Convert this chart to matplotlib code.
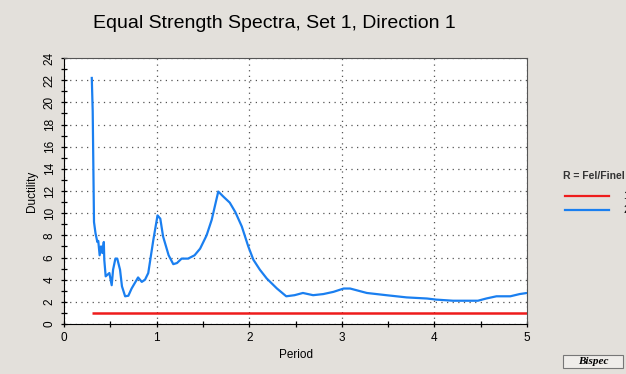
import matplotlib
matplotlib.use('Agg')
import matplotlib.pyplot as plt
from matplotlib.ticker import MultipleLocator

plt.rcParams['font.family'] = ['Liberation Sans', 'DejaVu Sans']

# ductility spectrum
period = [0.30, 0.31, 0.317, 0.324, 0.34, 0.36, 0.37, 0.385, 0.40, 0.415, 0.43, 0.435,
          0.45, 0.49, 0.515, 0.53, 0.555, 0.575, 0.605, 0.626, 0.66, 0.695, 0.73, 0.80,
          0.84, 0.875, 0.91, 0.965, 1.01, 1.04, 1.07, 1.13, 1.18, 1.22, 1.27, 1.34,
          1.41, 1.47, 1.54, 1.595, 1.666, 1.72, 1.79, 1.85, 1.92, 1.99, 2.045, 2.115,
          2.19, 2.30, 2.40, 2.49, 2.58, 2.69, 2.80, 2.91, 3.02, 3.09, 3.27, 3.48,
          3.70, 3.92, 4.02, 4.20, 4.47, 4.56, 4.67, 4.82, 4.92, 5.0]
ductility = [22.2, 19.2, 14.2, 9.2, 8.2, 7.4, 7.5, 6.2, 7.0, 6.4, 7.4, 5.8,
             4.3, 4.6, 3.5, 4.9, 5.9, 5.9, 4.9, 3.4, 2.5, 2.55, 3.2, 4.2,
             3.8, 4.0, 4.6, 7.6, 9.8, 9.5, 7.9, 6.2, 5.4, 5.5, 5.9, 5.9,
             6.2, 6.8, 8.0, 9.4, 11.95, 11.5, 10.95, 10.1, 8.8, 7.0, 5.8, 4.9,
             4.1, 3.2, 2.5, 2.6, 2.8, 2.6, 2.7, 2.9, 3.2, 3.2, 2.8, 2.6,
             2.4, 2.3, 2.2, 2.1, 2.1, 2.3, 2.5, 2.5, 2.7, 2.8]
r_period = [0.30, 5.0]
r_value = [1.0, 1.0]

bg = '#e3e0db'
fig = plt.figure(figsize=(6.26, 3.74), dpi=100, facecolor=bg)
ax = fig.add_axes([64/626, 1 - 324/374, 463/626, 266/374])
ax.set_facecolor('white')

ax.plot(r_period, r_value, color='#ee1c1c', lw=1.8, solid_capstyle='butt')
ax.plot(period, ductility, color='#1a7ff0', lw=1.6)

ax.set_xlim(0, 5)
ax.set_ylim(0, 24)
ax.xaxis.set_major_locator(MultipleLocator(1))
ax.xaxis.set_minor_locator(MultipleLocator(0.5))
ax.yaxis.set_major_locator(MultipleLocator(2))
ax.yaxis.set_minor_locator(MultipleLocator(1))
ax.tick_params(which='both', direction='inout', length=5, width=0.9, labelsize=8.5)
ax.tick_params(which='minor', length=4)
ax.tick_params(axis='y', labelrotation=90)
for lbl in ax.get_yticklabels():
    lbl.set_va('center')
ax.grid(True, which='major', linestyle=(0, (1, 3.5)), color='#555555', lw=0.9)
for s in ['top', 'right']:
    ax.spines[s].set_color('#555555')

ax.set_xlabel('Period', fontsize=8.5, labelpad=3)
ax.set_ylabel('Ductility', fontsize=8.5, labelpad=4)

fig.text(0.438, 1 - 23/374, 'Equal Strength Spectra, Set 1, Direction 1', ha='center', va='center', fontsize=14)

# legend, clipped by the right edge
fig.text(563/626, 1 - 176/374, 'R = Fel/FineI', fontsize=7.5, va='center', weight='bold', color='#333333')
fig.add_artist(plt.Line2D([565/626, 609/626], [1 - 196/374] * 2, color='#ee1c1c', lw=1.6))
fig.add_artist(plt.Line2D([565/626, 609/626], [1 - 210/374] * 2, color='#1a7ff0', lw=1.6))
fig.text(623/626, 1 - 196/374, '1', fontsize=7.5, va='center')
fig.text(623/626, 1 - 210/374, '2', fontsize=7.5, va='center')

# "Bispec" button
fig.add_artist(plt.Rectangle((563/626, 1 - 368/374), 60/626, 13/374, facecolor='#efedea',
                             edgecolor='#777777', lw=0.8))
fig.text(593/626, 1 - 361.5/374, 'Bispec', ha='center', va='center', fontsize=8,
         weight='bold', style='italic', family=['Liberation Serif', 'DejaVu Serif'])

fig.savefig('out.png', dpi=100, facecolor=bg)
